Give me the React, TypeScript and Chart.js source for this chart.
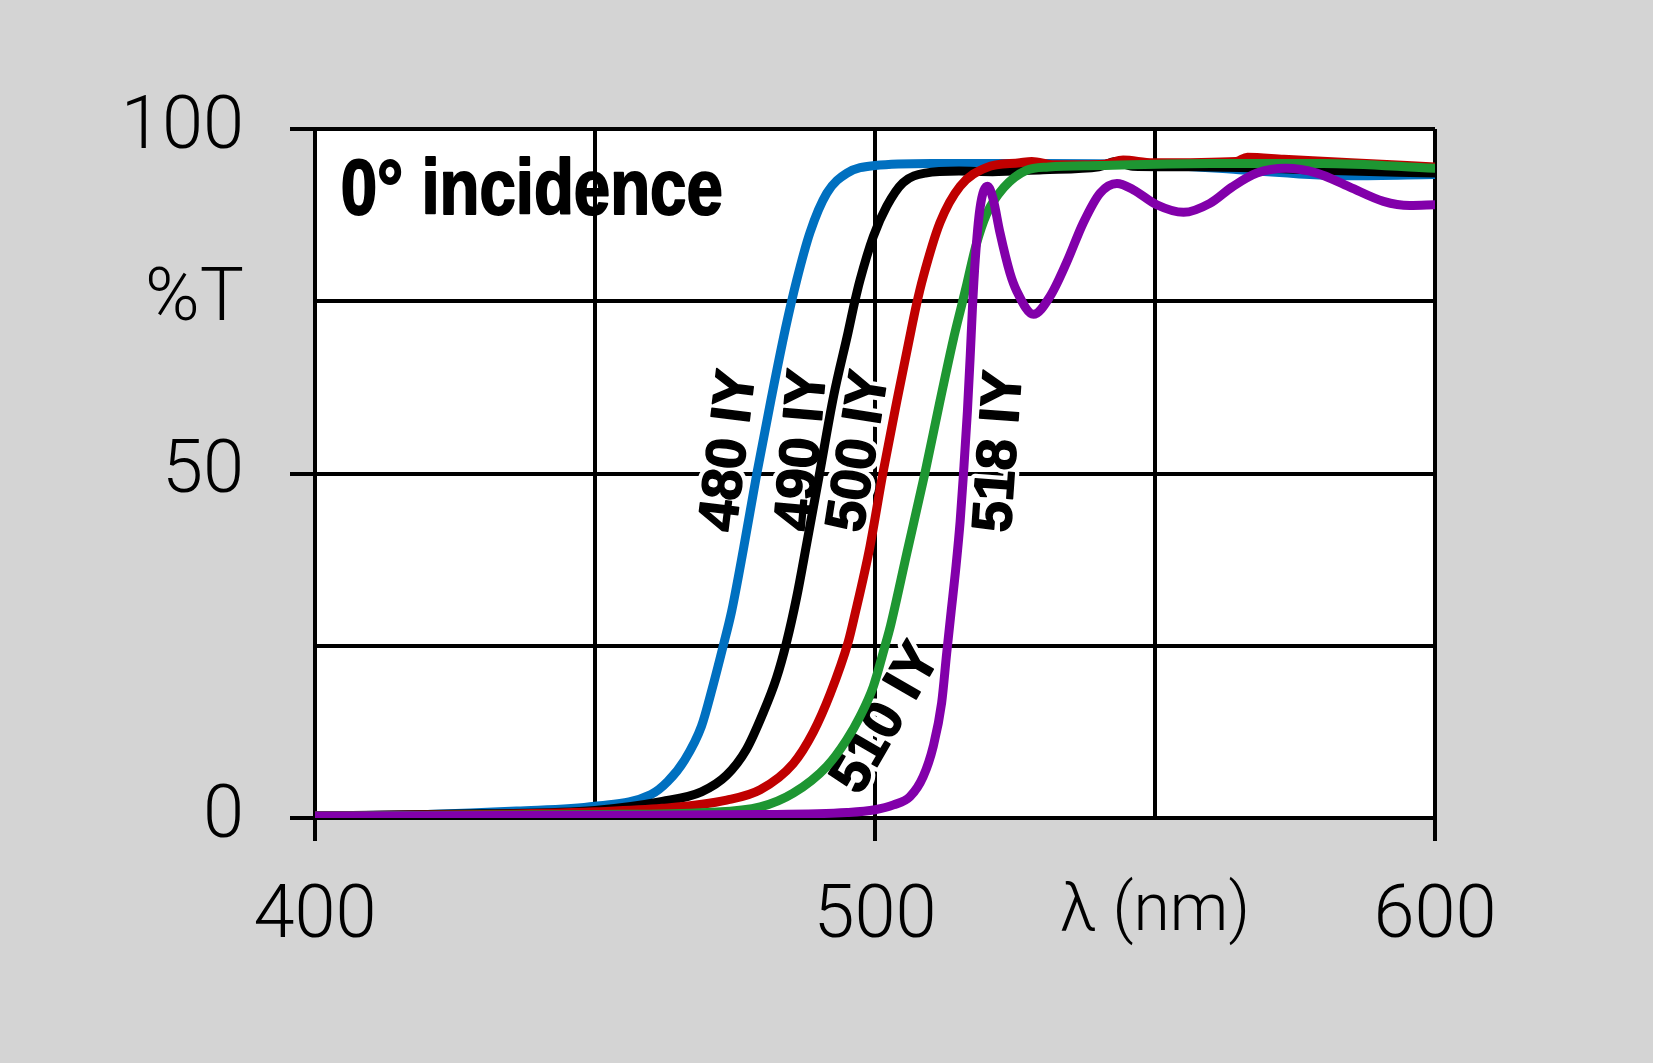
import React, { useEffect, useRef } from "react";
import { Chart, registerables } from "chart.js";

Chart.register(...registerables);

// ---- data (wavelength in nm, transmission in %T) ----
const wl480 = [400, 420, 436, 450, 460, 463, 466, 469, 471, 472.9, 474.4, 476.5, 478.9, 481.5, 484, 486, 488.4, 491.4, 495, 500, 510, 530, 550, 565, 585, 600];
const t480 = [0.3, 0.5, 1.0, 1.7, 3.4, 5.3, 8.4, 13.3, 19, 25, 30, 39, 50, 61, 71, 78, 85, 90.7, 93.6, 94.7, 95.0, 95.0, 94.8, 94.1, 93.2, 93.4];

const wl490 = [400, 430, 450, 462, 469, 473.5, 477, 480, 482.4, 484.2, 486, 487.8, 490.1, 492.6, 495.2, 496.4, 497.3, 499.7, 502.1, 505, 509, 515, 521, 530, 540, 543, 546, 560, 580, 600];
const t490 = [0.3, 0.6, 1.1, 2.4, 3.8, 6.2, 9.9, 15.2, 20.3, 25.5, 32, 39.8, 50, 61.2, 70.5, 75, 78, 84.4, 88.8, 92.2, 93.6, 93.9, 93.8, 94.1, 94.5, 95.3, 94.6, 94.5, 94.0, 93.6];

const wl500 = [400, 430, 450, 462, 473.5, 479.5, 485.4, 489, 492, 495.2, 496.4, 499.1, 501.4, 503.9, 506.5, 507.4, 508.6, 511.6, 515.2, 519.9, 525.9, 528, 532, 541, 544.3, 549.6, 564.5, 566.5, 573, 585, 600];
const t500 = [0.3, 0.5, 0.9, 1.4, 2.6, 4.1, 7.9, 12.5, 18, 25.5, 29.5, 39.4, 50, 60.5, 71, 74.5, 78.5, 86.4, 91.7, 94.4, 95.1, 95.3, 94.8, 94.9, 95.5, 95.1, 95.3, 95.9, 95.6, 95.1, 94.5];

const wl510 = [400, 450, 470, 479.5, 485.4, 491.4, 494.9, 497.3, 499.7, 501.8, 502.8, 505.7, 508.9, 511.6, 514, 515.5, 516.4, 518, 519.9, 523, 527, 531, 540, 560, 580, 600];
const t510 = [0.3, 0.5, 0.8, 1.6, 3.6, 7.5, 11.3, 14.7, 19.1, 25, 28, 38.5, 50, 60.5, 69.5, 74.5, 77.5, 83, 87.6, 91.5, 94.0, 94.5, 94.7, 95.0, 95.0, 94.3];

const wl518 = [400, 450, 480, 495, 500, 503.3, 506.25, 508.6, 510.4, 511.9, 512.8, 513.6, 514.4, 515.2, 515.8, 516.5, 517, 517.4, 517.9, 518.75, 520.1, 521.1, 522.3, 524.1, 525.3, 528.3, 531.25, 534.2, 537.2, 540.2, 543.2, 546.1, 550.3, 555.1, 559.8, 563.8, 568.2, 573.4, 578.9, 584.7, 590.8, 595.5, 600];
const t518 = [0.3, 0.4, 0.5, 0.8, 1.2, 1.9, 3.1, 6.0, 10.4, 16.7, 23.9, 30, 36, 43, 50, 59, 67, 74, 81, 88.5, 91.7, 89.8, 85, 79.1, 76.5, 73.1, 75.7, 80.6, 86.4, 90.7, 92.1, 91.2, 89.0, 87.9, 89.2, 91.6, 93.6, 94.3, 93.6, 91.6, 89.5, 88.9, 89.0];

const seriesNames = ["480 IY", "490 IY", "500 IY", "510 IY", "518 IY"];
const seriesColors = ["#0070C0", "#000000", "#C00000", "#1E9632", "#8200AA"];
const seriesOrder = [4, 3, 2, 1, 0];

// curve labels: anchor (nm, %T) and rotation in degrees
const labelX = [474.1, 487.2, 497.3, 502.1, 522.4];
const labelY = [53.3, 53.4, 53.2, 14.4, 53.2];
const labelAngle = [-83, -85, -81, -60, -86];

const xTickValues = [400, 450, 500, 550, 600];
const xTickLabels = ["400", "", "500", "λ (nm)", "600"];
const xTickMarks = [true, false, true, false, true];
const yTickValues = [0, 25, 50, 75, 100];
const yTickLabels = ["0", "", "50", "%T", "100"];
const yTickMarks = [true, false, true, false, true];

const titleText = "0° incidence";
const titleAnchor = [404.6, 87.6];

const BG = "#d4d4d4";

export default function App() {
  const ref = useRef<HTMLCanvasElement | null>(null);

  useEffect(() => {
    document.body.style.margin = "0";
    document.body.style.background = BG;
    const canvas = ref.current;
    if (!canvas) return;

    const mk = (xs: number[], ys: number[]) => xs.map((x, i) => ({ x, y: ys[i] }));
    const allData = [mk(wl480, t480), mk(wl490, t490), mk(wl500, t500), mk(wl510, t510), mk(wl518, t518)];

    const bgPlugin = {
      id: "bgPlugin",
      beforeDraw(chart: any) {
        const { ctx, chartArea, width, height } = chart;
        ctx.save();
        ctx.fillStyle = BG;
        ctx.fillRect(0, 0, width, height);
        ctx.fillStyle = "#ffffff";
        ctx.fillRect(chartArea.left, chartArea.top, chartArea.right - chartArea.left, chartArea.bottom - chartArea.top);
        ctx.restore();
      },
    };

    const labelPlugin = {
      id: "labelPlugin",
      beforeDatasetsDraw(chart: any) {
        const { ctx } = chart;
        const xs = chart.scales.x;
        const ys = chart.scales.y;
        ctx.save();
        // title
        ctx.font = "bold 77px 'Liberation Sans', Arial, sans-serif";
        ctx.textAlign = "left";
        ctx.textBaseline = "alphabetic";
        const w = ctx.measureText(titleText).width;
        const tx = xs.getPixelForValue(titleAnchor[0]);
        const ty = ys.getPixelForValue(titleAnchor[1]);
        ctx.save();
        ctx.translate(tx, ty);
        ctx.scale(382 / w, 1);
        ctx.fillStyle = "#000";
        ctx.strokeStyle = "#000";
        ctx.lineWidth = 2;
        ctx.lineJoin = "round";
        ctx.strokeText(titleText, 0, 0);
        ctx.fillText(titleText, 0, 0);
        ctx.restore();

        // curve labels
        ctx.font = "bold 56px 'Liberation Sans', Arial, sans-serif";
        ctx.textAlign = "center";
        ctx.textBaseline = "middle";
        ctx.lineJoin = "round";
        for (let i = 0; i < seriesNames.length; i++) {
          const px = xs.getPixelForValue(labelX[i]);
          const py = ys.getPixelForValue(labelY[i]);
          ctx.save();
          ctx.translate(px, py);
          ctx.rotate((labelAngle[i] * Math.PI) / 180);
          ctx.strokeStyle = "#ffffff";
          ctx.lineWidth = 10;
          ctx.strokeText(seriesNames[i], 0, 0);
          ctx.strokeStyle = "#000";
          ctx.lineWidth = 1.5;
          ctx.strokeText(seriesNames[i], 0, 0);
          ctx.fillStyle = "#000";
          ctx.fillText(seriesNames[i], 0, 0);
          ctx.restore();
        }
        ctx.restore();
      },
    };

    const chart = new Chart(canvas, {
      type: "line",
      data: {
        datasets: allData.map((d, i) => ({
          label: seriesNames[i],
          data: d,
          borderColor: seriesColors[i],
          backgroundColor: seriesColors[i],
          borderWidth: 9,
          pointRadius: 0,
          fill: false,
          cubicInterpolationMode: "monotone",
          order: seriesOrder[i],
          borderCapStyle: "round",
          borderJoinStyle: "round",
        })),
      },
      options: {
        animation: false,
        responsive: false,
        devicePixelRatio: 1,
        layout: { padding: { top: 129, right: 218, left: 0, bottom: 0 } },
        plugins: { legend: { display: false }, tooltip: { enabled: false } },
        elements: { line: { borderWidth: 9 } },
        scales: {
          x: {
            type: "linear",
            min: 400,
            max: 600,
            afterFit: (s: any) => {
              s.height = 245;
            },
            afterBuildTicks: (s: any) => {
              s.ticks = xTickValues.map((v) => ({ value: v }));
            },
            grid: {
              color: "#000",
              lineWidth: 4,
              drawTicks: true,
              tickLength: 23,
              tickWidth: 4,
              tickColor: (c: any) => (xTickMarks[xTickValues.indexOf(c.tick?.value)] ? "#000" : "rgba(0,0,0,0)"),
            },
            border: { display: true, color: "#000", width: 4 },
            ticks: {
              padding: 33,
              color: "#000",
              maxRotation: 0,
              autoSkip: false,
              font: (c: any) =>
                c.tick && c.tick.value === 550
                  ? { family: "Roboto, 'DejaVu Sans', sans-serif", size: 66, weight: "300" }
                  : { family: "Roboto, 'DejaVu Sans', sans-serif", size: 74, weight: "300" },
              callback: (v: any) => {
                const i = xTickValues.indexOf(Number(v));
                return i >= 0 ? xTickLabels[i] : "";
              },
            },
          },
          y: {
            type: "linear",
            min: 0,
            max: 100,
            afterFit: (s: any) => {
              s.width = 315;
            },
            afterBuildTicks: (s: any) => {
              s.ticks = yTickValues.map((v) => ({ value: v }));
            },
            grid: {
              color: "#000",
              lineWidth: 4,
              drawTicks: true,
              tickLength: 25,
              tickWidth: 4,
              tickColor: (c: any) => (yTickMarks[yTickValues.indexOf(c.tick?.value)] ? "#000" : "rgba(0,0,0,0)"),
            },
            border: { display: true, color: "#000", width: 4 },
            ticks: {
              padding: 46,
              color: "#000",
              autoSkip: false,
              font: { family: "Roboto, 'DejaVu Sans', sans-serif", size: 74, weight: "300" },
              callback: (v: any) => {
                const i = yTickValues.indexOf(Number(v));
                return i >= 0 ? yTickLabels[i] : "";
              },
            },
          },
        },
      },
      plugins: [bgPlugin, labelPlugin],
    } as any);

    return () => chart.destroy();
  }, []);

  return (
    <div style={{ position: "absolute", left: 0, top: 0, width: 1653, height: 1063 }}>
      <canvas ref={ref} width={1653} height={1063} style={{ width: 1653, height: 1063, display: "block" }} />
    </div>
  );
}
